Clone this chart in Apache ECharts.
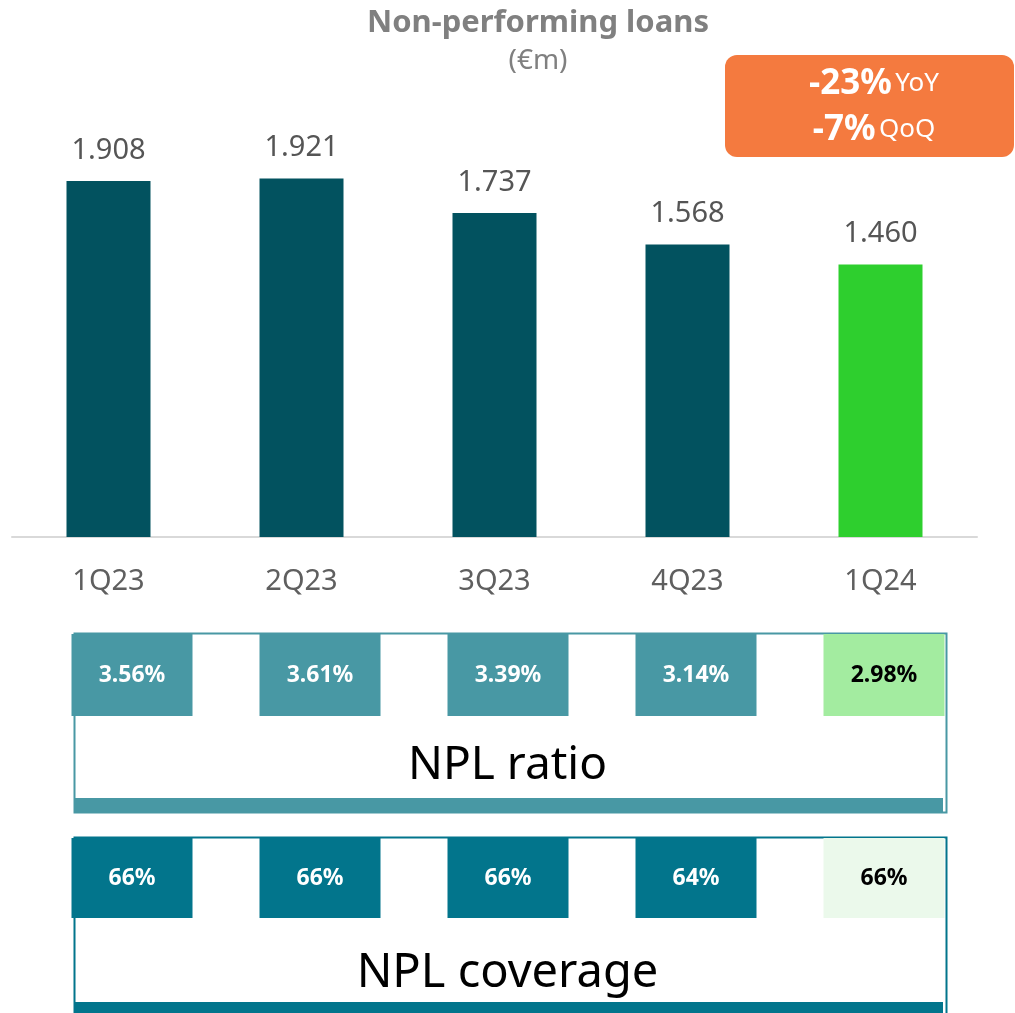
<!DOCTYPE html>
<html>
<head>
<meta charset="utf-8">
<style>
    html,body{
        margin: 0;
        padding: 0;
        background: #fff;
    }
    #main{
        width: 1015px;
        height: 1013px;
    }
</style>
</head>
<body>
<div id="main"></div>
<script type="text/javascript" src="https://cdn.jsdelivr.net/npm/echarts@6/dist/echarts.min.js"></script>
<script>
    // data
    var quarters = ['1Q23', '2Q23', '3Q23', '4Q23', '1Q24'];
    var npl = [1.908, 1.921, 1.737, 1.568, 1.460];
    var nplRatio = [3.56, 3.61, 3.39, 3.14, 2.98];
    var nplCoverage = [66, 66, 66, 64, 66];
    var changeYoY = '-23%';
    var changeQoQ = '-7%';

    var font = 'Noto Sans';
    var last = quarters.length - 1;

    // tile drawer for the two small rows
    function tileRenderer(colors, textColors, fmt) {
        return function (params, api) {
            var i = api.value(0);
            var top = api.coord([i, 1]);
            var bottom = api.coord([i, 0]);
            var w = 121;
            var hl = i === last;
            return {
                type: 'group',
                children: [{
                    type: 'rect',
                    shape: {x: top[0] - w / 2, y: top[1], width: w, height: bottom[1] - top[1]},
                    style: {fill: hl ? colors[1] : colors[0]}
                }, {
                    type: 'text',
                    style: {
                        x: top[0], y: (top[1] + bottom[1]) / 2,
                        text: fmt(api.value(1)),
                        fill: hl ? textColors[1] : textColors[0],
                        font: 'bold 23px "' + font + '"',
                        align: 'center', verticalAlign: 'middle'
                    }
                }]
            };
        };
    }

    var option = {
        animation: false,
        backgroundColor: '#fff',
        title: {
            text: 'Non-performing loans',
            subtext: '(€m)',
            left: 533,
            top: 3,
            textAlign: 'center',
            itemGap: 8,
            textStyle: {fontFamily: font, fontSize: 31, fontWeight: 'bold', color: '#808080'},
            subtextStyle: {fontFamily: font, fontSize: 28, color: '#808080'}
        },
        grid: [
            {left: 12, width: 965, top: 126.5, height: 410.5},
            {left: 38, width: 940, top: 634, height: 82},
            {left: 38, width: 940, top: 838, height: 80}
        ],
        xAxis: [
            {
                gridIndex: 0, type: 'category', data: quarters,
                axisLine: {lineStyle: {color: '#d9d9d9', width: 2}},
                axisTick: {show: false},
                axisLabel: {fontFamily: font, fontSize: 29, color: '#5f5f5f', margin: 30}
            },
            {gridIndex: 1, type: 'category', data: quarters, show: false},
            {gridIndex: 2, type: 'category', data: quarters, show: false}
        ],
        yAxis: [
            {gridIndex: 0, type: 'value', min: 0, max: 2.2, show: false},
            {gridIndex: 1, type: 'value', min: 0, max: 1, show: false},
            {gridIndex: 2, type: 'value', min: 0, max: 1, show: false}
        ],
        series: [
            {
                type: 'bar',
                xAxisIndex: 0, yAxisIndex: 0,
                barWidth: 84,
                data: npl.map(function (v, i) {
                    return {value: v, itemStyle: {color: i === last ? '#2ecf2e' : '#02525f'}};
                }),
                label: {
                    show: true, position: 'top', distance: 16,
                    fontFamily: font, fontSize: 29, color: '#555',
                    formatter: function (p) { return p.value.toFixed(3); }
                }
            },
            {
                type: 'custom',
                xAxisIndex: 1, yAxisIndex: 1,
                data: nplRatio.map(function (v, i) { return [i, v]; }),
                encode: {x: 0},
                renderItem: tileRenderer(['#4898a4', '#a3eca0'], ['#fff', '#000'],
                    function (v) { return v.toFixed(2) + '%'; })
            },
            {
                type: 'custom',
                xAxisIndex: 2, yAxisIndex: 2,
                data: nplCoverage.map(function (v, i) { return [i, v]; }),
                encode: {x: 0},
                renderItem: tileRenderer(['#02758c', '#ebf9eb'], ['#fff', '#000'],
                    function (v) { return v + '%'; })
            }
        ],
        graphic: [
            // orange change box
            {
                type: 'rect', left: 725, top: 55, z: 10,
                shape: {width: 289, height: 102, r: 12},
                style: {fill: '#f47a3f'}
            },
            {
                type: 'text', x: 874, y: 61, z: 11,
                style: {
                    text: '{b|' + changeYoY + '} {n|YoY}\n{b|' + changeQoQ + '} {n|QoQ}',
                    align: 'center',
                    rich: {
                        b: {fontFamily: font, fontSize: 35, fontWeight: 'bold', fill: '#fff', lineHeight: 46},
                        n: {fontFamily: font, fontSize: 26, fill: '#fff', lineHeight: 46}
                    }
                }
            },
            // NPL ratio frame
            {
                type: 'rect', left: 72, top: 631, z: 0,
                shape: {width: 872, height: 179},
                style: {fill: 'none', stroke: '#4898a4', lineWidth: 2}
            },
            {
                type: 'rect', left: 75, top: 798, z: 1,
                shape: {width: 868, height: 14},
                style: {fill: '#4898a4'}
            },
            {
                type: 'text', left: 'center', top: 743, z: 2,
                style: {text: 'NPL ratio', fontFamily: font, fontSize: 46, fill: '#000'}
            },
            // NPL coverage frame
            {
                type: 'rect', left: 72, top: 835, z: 0,
                shape: {width: 872, height: 190},
                style: {fill: 'none', stroke: '#02758c', lineWidth: 2}
            },
            {
                type: 'rect', left: 75, top: 1002, z: 1,
                shape: {width: 868, height: 14},
                style: {fill: '#02758c'}
            },
            {
                type: 'text', left: 'center', top: 950, z: 2,
                style: {text: 'NPL coverage', fontFamily: font, fontSize: 47, fill: '#000'}
            }
        ]
    };

    var myChart = echarts.init(document.getElementById('main'));
    myChart.setOption(option);
</script>
</body>
</html>
